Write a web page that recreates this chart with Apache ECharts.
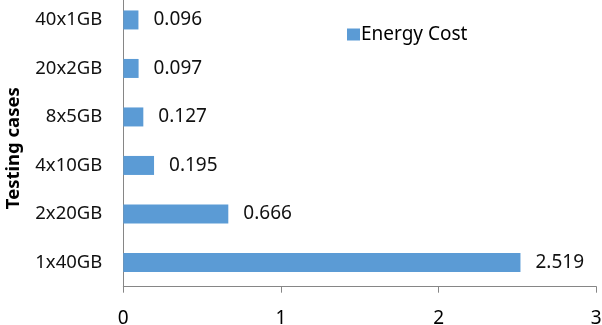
<!DOCTYPE html>
<html>
<head>
<meta charset="utf-8">
<script src="https://cdn.jsdelivr.net/npm/echarts@6/dist/echarts.min.js"></script>
<style>
  html, body { margin: 0; padding: 0; background: #fff; }
  #chart { width: 602px; height: 325px; }
</style>
</head>
<body>
<div id="chart"></div>
<script>
// Testing cases, listed bottom-to-top along the category axis
const cases = ['1x40GB', '2x20GB', '4x10GB', '8x5GB', '20x2GB', '40x1GB'];
// Energy cost per testing case
const energyCost = [2.519, 0.666, 0.195, 0.127, 0.097, 0.096];
// Value axis ticks
const costTicks = { min: 0, max: 3, interval: 1 };

const FONT = '"Noto Sans", "DejaVu Sans", sans-serif';
const AXIS_GREY = '#868686';

const chart = echarts.init(document.getElementById('chart'), null, { renderer: 'canvas' });
chart.setOption({
  animation: false,
  backgroundColor: '#ffffff',
  textStyle: { fontFamily: FONT },
  grid: {
    left: 123.3, right: 5.7, top: -4.3, bottom: 38.3,
    containLabel: false,
    outerBoundsMode: 'none'
  },
  legend: {
    left: 342, top: 20,
    icon: 'rect',
    itemWidth: 13, itemHeight: 12, itemGap: 4,
    textStyle: { fontFamily: FONT, fontSize: 19, color: '#000', padding: [0, 0, 0, -4] },
    data: ['Energy Cost']
  },
  xAxis: {
    type: 'value',
    min: costTicks.min, max: costTicks.max, interval: costTicks.interval,
    splitLine: { show: false },
    axisLine: { show: true, lineStyle: { color: AXIS_GREY, width: 1 } },
    axisTick: { show: true, length: 6, lineStyle: { color: AXIS_GREY } },
    axisLabel: { margin: 22, fontFamily: FONT, fontSize: 19, color: '#000' }
  },
  yAxis: {
    type: 'category',
    data: cases,
    name: 'Testing cases',
    nameLocation: 'middle',
    nameRotate: 90,
    nameGap: 100,
    nameTextStyle: {
      fontFamily: FONT, fontSize: 18.5, fontWeight: 'bold', color: '#000',
      padding: [0, 14, 0, 0]
    },
    axisLine: { show: true, lineStyle: { color: AXIS_GREY, width: 1 } },
    axisTick: { show: false },
    axisLabel: { margin: 21, fontFamily: FONT, fontSize: 18.5, color: '#111' }
  },
  series: [{
    name: 'Energy Cost',
    type: 'bar',
    data: energyCost,
    barWidth: 19,
    itemStyle: { color: '#5B9BD5' },
    label: {
      show: true,
      position: 'right',
      distance: 15,
      fontFamily: FONT,
      fontSize: 19,
      color: '#111',
      formatter: p => p.value.toFixed(3)
    }
  }]
});
</script>
</body>
</html>
